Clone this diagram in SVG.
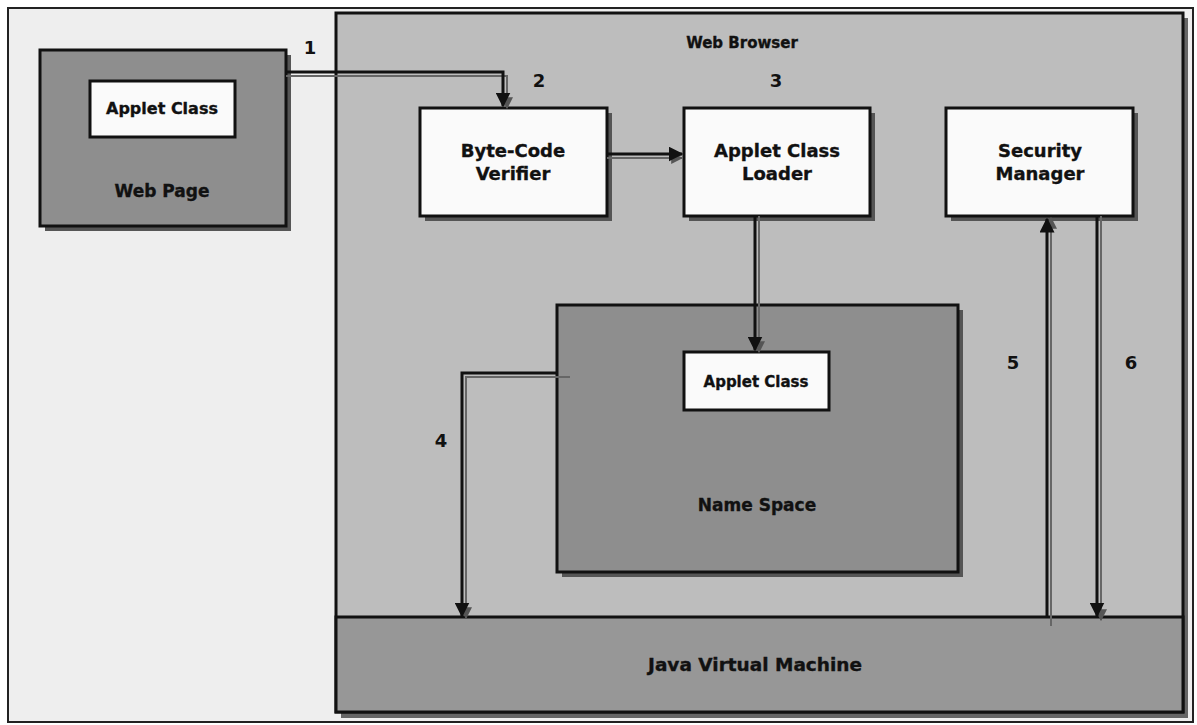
<svg xmlns="http://www.w3.org/2000/svg" width="1197" height="725" viewBox="0 0 1197 725">
<defs>
<marker id="ah" viewBox="0 0 10 10" refX="9" refY="5" markerWidth="5" markerHeight="5" orient="auto" markerUnits="strokeWidth">
<path d="M0,0 L10,5 L0,10 z" fill="#111"/>
</marker>
<marker id="ahg" viewBox="0 0 10 10" refX="9" refY="5" markerWidth="6" markerHeight="6" orient="auto" markerUnits="strokeWidth">
<path d="M0,0 L10,5 L0,10 z" fill="#555"/>
</marker>
</defs>
<style>
.lbl{font-family:"DejaVu Sans",Verdana,sans-serif;font-weight:bold;fill:#111;stroke:#111;stroke-width:0.35;text-anchor:middle}
.num{font-family:"DejaVu Sans",Verdana,sans-serif;font-weight:bold;font-size:18px;fill:#111;text-anchor:middle}
.box{stroke:#111;stroke-width:3}
.white{fill:#fafafa}
.dark{fill:#8e8e8e}
.shadow{fill:#555}
.wire{fill:none;stroke:#111;stroke-width:3}
.wire2{fill:none;stroke:#666;stroke-width:2}
</style>
<rect width="1197" height="725" fill="#ffffff"/>
<rect x="8" y="8" width="1185" height="714" fill="#eeeeee" stroke="#222" stroke-width="2"/>

<g id="web-page">
<rect x="45" y="55" width="246" height="176" class="shadow"/>
<rect x="40" y="50" width="246" height="176" class="box dark"/>
<rect x="90" y="81" width="145" height="56" class="box white"/>
<text x="162" y="114" class="lbl" font-size="16">Applet Class</text>
<text x="162" y="197" class="lbl" font-size="17">Web Page</text>
</g>

<g id="web-browser">
<rect x="341" y="18" width="847" height="700" fill="#666"/>
<rect x="336" y="13" width="847" height="699" fill="#bdbdbd" class="box"/>
<text x="742" y="48" class="lbl" font-size="15">Web Browser</text>
</g>

<g id="byte-code-verifier">
<rect x="425" y="113" width="187" height="108" class="shadow"/>
<rect x="420" y="108" width="187" height="108" class="box white"/>
<text x="513" y="157" class="lbl" font-size="18">Byte-Code</text>
<text x="513" y="180" class="lbl" font-size="18">Verifier</text>
</g>

<g id="applet-class-loader">
<rect x="689" y="113" width="186" height="108" class="shadow"/>
<rect x="684" y="108" width="186" height="108" class="box white"/>
<text x="777" y="157" class="lbl" font-size="18">Applet Class</text>
<text x="777" y="180" class="lbl" font-size="18">Loader</text>
</g>

<g id="security-manager">
<rect x="951" y="113" width="187" height="108" class="shadow"/>
<rect x="946" y="108" width="187" height="108" class="box white"/>
<text x="1040" y="157" class="lbl" font-size="18">Security</text>
<text x="1040" y="180" class="lbl" font-size="18">Manager</text>
</g>

<g id="name-space">
<rect x="562" y="310" width="401" height="267" class="shadow"/>
<rect x="557" y="305" width="401" height="267" class="box dark"/>
<rect x="684" y="352" width="145" height="58" class="box white"/>
<text x="756" y="387" class="lbl" font-size="15">Applet Class</text>
<text x="757" y="511" class="lbl" font-size="17">Name Space</text>
</g>

<g id="jvm">
<rect x="336" y="617" width="847" height="95" fill="#979797" class="box"/>
<text x="755" y="671" class="lbl" font-size="17" textLength="214" lengthAdjust="spacingAndGlyphs">Java Virtual Machine</text>
</g>

<g id="connectors">
<polyline points="286,76 507,76 507,108" class="wire2" marker-end="url(#ahg)"/>
<polyline points="286,72 503,72 503,106" class="wire" marker-end="url(#ah)"/>
<line x1="607" y1="158" x2="682" y2="158" class="wire2" marker-end="url(#ahg)"/>
<line x1="607" y1="154" x2="682" y2="154" class="wire" marker-end="url(#ah)"/>
<line x1="759" y1="216" x2="759" y2="352" class="wire2" marker-end="url(#ahg)"/>
<line x1="755" y1="216" x2="755" y2="350" class="wire" marker-end="url(#ah)"/>
<polyline points="570,377 466,377 466,618" class="wire2" marker-end="url(#ahg)"/>
<polyline points="557,373 462,373 462,616" class="wire" marker-end="url(#ah)"/>
<line x1="1051" y1="626" x2="1051" y2="218" class="wire2" marker-end="url(#ahg)"/>
<line x1="1047" y1="617" x2="1047" y2="219" class="wire" marker-end="url(#ah)"/>
<line x1="1101" y1="216" x2="1101" y2="620" class="wire2" marker-end="url(#ahg)"/>
<line x1="1097" y1="216" x2="1097" y2="616" class="wire" marker-end="url(#ah)"/>
<text x="310" y="54" class="num">1</text>
<text x="539" y="87" class="num">2</text>
<text x="776" y="87" class="num">3</text>
<text x="441" y="447" class="num">4</text>
<text x="1013" y="369" class="num">5</text>
<text x="1131" y="369" class="num">6</text>
</g>
</svg>
